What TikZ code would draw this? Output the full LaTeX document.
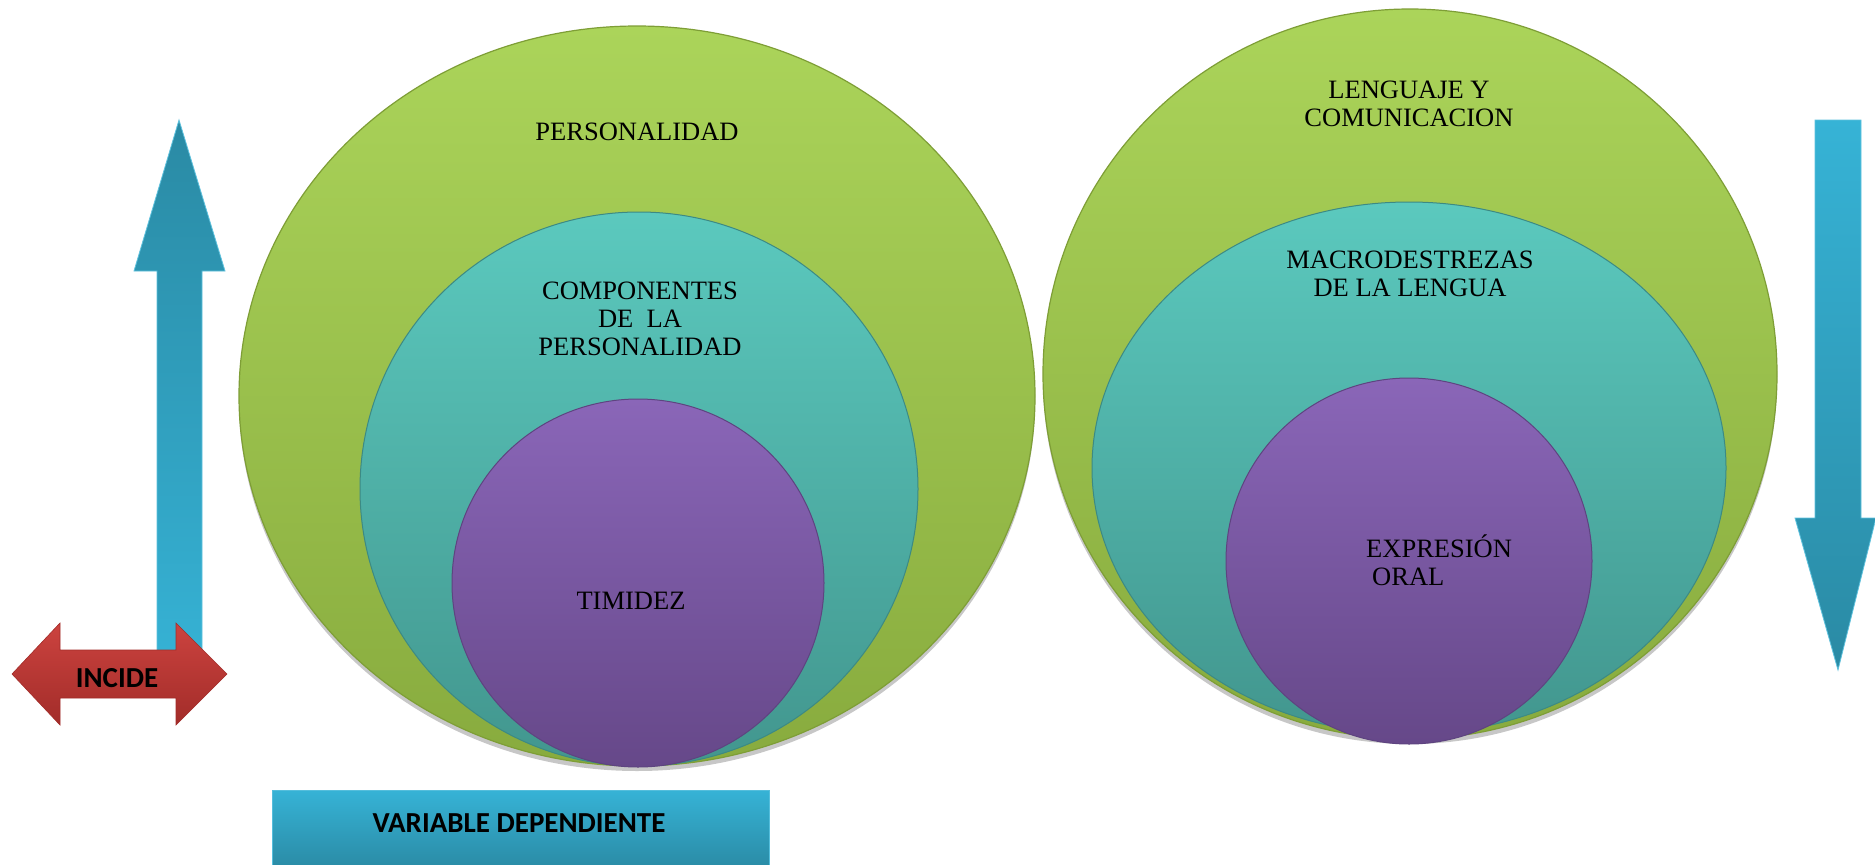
\documentclass[tikz,border=0pt]{standalone}
\usepackage{fontspec}
\setmainfont{Liberation Serif}
\newfontfamily\calib{Carlito}
\usetikzlibrary{shapes.geometric}
\definecolor{gTop}{HTML}{ABD45A}
\definecolor{gBot}{HTML}{88AB3E}
\definecolor{gEdge}{HTML}{7E9E36}
\definecolor{tTop}{HTML}{5BC9BE}
\definecolor{tBot}{HTML}{42968E}
\definecolor{tEdge}{HTML}{3C8A84}
\definecolor{pTop}{HTML}{8A66B8}
\definecolor{pBot}{HTML}{664889}
\definecolor{pEdge}{HTML}{5E4480}
\definecolor{bLight}{HTML}{36B3D6}
\definecolor{bDark}{HTML}{2A8AA4}
\definecolor{rTop}{HTML}{CC433F}
\definecolor{rBot}{HTML}{A22C29}
\tikzset{
  green disc/.style={top color=gTop, bottom color=gBot, draw=gEdge, line width=1.2pt},
  teal disc/.style={top color=tTop, bottom color=tBot, draw=tEdge, line width=1pt},
  purple disc/.style={top color=pTop, bottom color=pBot, draw=pEdge, line width=1pt},
  shadowed/.style={fill=black, opacity=0.22},
  serif label/.style={font=\fontsize{26.5}{28}\selectfont, align=center, inner sep=0pt, text=black},
  bold label/.style={font=\calib\bfseries\fontsize{29}{31}\selectfont, inner sep=0pt, text=black},
}
\begin{document}
\begin{tikzpicture}[x=1pt,y=-1pt]
\useasboundingbox (0,0) rectangle (1875,865);
\fill[white] (0,0) rectangle (1875,865);

% ---------- left circles ----------
\fill[shadowed] (637,401) ellipse [x radius=398pt, y radius=370pt];
\path[green disc] (637,396) ellipse [x radius=398pt, y radius=370pt];
\path[teal disc] (639,489) ellipse [x radius=279pt, y radius=277pt];
\path[purple disc] (638,583) ellipse [x radius=186pt, y radius=184pt];

% ---------- right circles ----------
\fill[shadowed] (1410,379) ellipse [x radius=367pt, y radius=365pt];
\path[green disc] (1410,374) ellipse [x radius=367pt, y radius=365pt];
\path[teal disc] (1409,468) ellipse [x radius=317pt, y radius=266pt];
\path[purple disc] (1409,561) ellipse [x radius=183pt, y radius=183pt];

% ---------- left up arrow ----------
\path[top color=bDark, bottom color=bLight, draw=bLight!80!white, line width=0.8pt]
  (179,120) -- (225,271) -- (202,271) -- (202,680) -- (157,680) -- (157,271) -- (134,271) -- cycle;

% ---------- INCIDE double arrow ----------
\path[top color=rTop, bottom color=rBot, draw=rBot, line width=0.6pt]
  (12,674) -- (60,623) -- (60,650) -- (176,650) -- (176,623) -- (227,674)
  -- (176,725) -- (176,698) -- (60,698) -- (60,725) -- cycle;

% ---------- right down arrow ----------
\path[top color=bLight, bottom color=bDark, draw=bLight!80!white, line width=0.8pt]
  (1815,120) -- (1861,120) -- (1861,518) -- (1876,518) -- (1838,670) -- (1795,518) -- (1815,518) -- cycle;

% ---------- bottom box ----------
\path[top color=bLight, bottom color=bDark, draw=bLight!85!white, line width=1pt]
  (272,790) rectangle (769,870);

% ---------- texts ----------
\node[serif label] (personalidad) at (637,132) {PERSONALIDAD};
\node[serif label] (componentes) at (640,319) {COMPONENTES\\DE\ \ LA\\PERSONALIDAD};
\node[serif label] (timidez) at (631,601) {TIMIDEZ};
\node[serif label] (lenguaje) at (1409,104) {LENGUAJE Y\\COMUNICACION};
\node[serif label] (macro) at (1410,274) {MACRODESTREZAS\\DE LA LENGUA};
\node[serif label, align=left, anchor=west] (expresion) at (1366,560) {EXPRESIÓN\\\hspace*{6pt}ORAL};
\node[bold label] (incide) at (117,678) {INCIDE};
\node[bold label] (variable) at (519,823) {VARIABLE DEPENDIENTE};
\end{tikzpicture}
\end{document}
